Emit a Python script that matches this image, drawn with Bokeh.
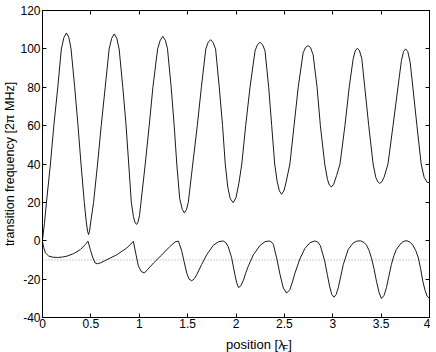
from bokeh.plotting import figure
from bokeh.layouts import column
from bokeh.models import Range1d, LinearAxis, FixedTicker
from bokeh.core.properties import value
from bokeh.embed import file_html
from bokeh.resources import INLINE

# ---- data ----
upper_x = [0.000, 0.020, 0.041, 0.082, 0.117, 0.158, 0.195, 0.222, 0.247, 0.272,
           0.295, 0.333, 0.367, 0.398, 0.432, 0.452, 0.466, 0.476, 0.486, 0.502,
           0.528, 0.569, 0.607, 0.648, 0.689, 0.715, 0.742, 0.768, 0.792, 0.830,
           0.864, 0.891, 0.918, 0.940, 0.958, 0.973, 0.988, 1.002, 1.018, 1.062,
           1.103, 1.141, 1.190, 1.217, 1.244, 1.270, 1.292, 1.330, 1.361, 1.388,
           1.418, 1.445, 1.467, 1.488, 1.507, 1.553, 1.600, 1.642, 1.688, 1.713,
           1.738, 1.763, 1.789, 1.827, 1.861, 1.889, 1.915, 1.940, 1.971, 2.000,
           2.030, 2.060, 2.100, 2.145, 2.197, 2.223, 2.249, 2.275, 2.300, 2.338,
           2.369, 2.400, 2.425, 2.448, 2.471, 2.495, 2.520, 2.557, 2.600, 2.643,
           2.694, 2.720, 2.745, 2.770, 2.797, 2.838, 2.872, 2.917, 2.945, 2.965,
           2.985, 3.010, 3.040, 3.075, 3.126, 3.170, 3.210, 3.232, 3.253, 3.275,
           3.300, 3.331, 3.372, 3.417, 3.445, 3.466, 3.486, 3.507, 3.530, 3.571,
           3.623, 3.674, 3.710, 3.732, 3.753, 3.775, 3.800, 3.828, 3.870, 3.914,
           3.945, 3.975, 4.000]
upper_y = [0.5, 9.0, 20.0, 40.0, 60.0, 80.0, 100.0, 106.0, 108.3, 106.0,
           100.0, 80.0, 60.0, 40.0, 20.0, 10.0, 5.0, 3.2, 5.0, 11.0,
           20.0, 40.0, 60.0, 80.0, 100.0, 105.5, 107.8, 105.5, 100.0, 80.0,
           60.0, 40.0, 20.0, 12.5, 9.3, 8.5, 9.8, 13.0, 20.0, 40.0,
           60.0, 80.0, 100.0, 104.5, 106.5, 104.5, 100.0, 80.0, 60.0, 40.0,
           22.0, 16.3, 14.5, 16.3, 20.0, 40.0, 60.0, 80.0, 100.0, 103.5,
           104.8, 103.3, 100.0, 80.0, 60.0, 40.0, 28.0, 22.0, 19.8, 22.5,
           30.0, 40.0, 60.0, 80.0, 99.0, 102.3, 103.4, 102.2, 99.0, 80.0,
           60.0, 40.0, 31.0, 26.0, 24.2, 26.0, 31.0, 40.0, 60.0, 80.0,
           98.0, 100.8, 101.7, 100.7, 97.0, 80.0, 60.0, 40.0, 32.0, 29.0,
           28.0, 29.5, 34.0, 40.0, 60.0, 80.0, 94.5, 98.9, 100.3, 99.3,
           95.0, 80.0, 60.0, 40.0, 33.0, 30.7, 29.9, 30.7, 33.0, 40.0,
           60.0, 80.0, 94.0, 98.7, 100.0, 98.7, 93.0, 80.0, 60.0, 40.0,
           33.0, 30.5, 30.2]

lower_x = [0.000, 0.012, 0.031, 0.065, 0.110, 0.156, 0.205, 0.254, 0.322, 0.391,
           0.442, 0.470, 0.494, 0.521, 0.545, 0.568, 0.600, 0.665, 0.768, 0.871,
           0.922, 0.939, 0.967, 0.990, 1.020, 1.052, 1.090, 1.148, 1.234, 1.319,
           1.371, 1.405, 1.440, 1.463, 1.491, 1.515, 1.542, 1.570, 1.594, 1.645,
           1.697, 1.765, 1.820, 1.868, 1.895, 1.919, 1.954, 1.988, 2.005, 2.026,
           2.050, 2.077, 2.103, 2.129, 2.180, 2.249, 2.300, 2.345, 2.370, 2.386,
           2.420, 2.455, 2.489, 2.523, 2.557, 2.583, 2.609, 2.660, 2.712, 2.765,
           2.815, 2.845, 2.872, 2.917, 2.945, 2.969, 2.990, 3.013, 3.035, 3.057,
           3.083, 3.109, 3.160, 3.212, 3.250, 3.287, 3.320, 3.349, 3.375, 3.400,
           3.426, 3.452, 3.478, 3.503, 3.530, 3.555, 3.580, 3.606, 3.632, 3.658,
           3.709, 3.738, 3.767, 3.800, 3.828, 3.857, 3.885, 3.908, 3.931, 3.955,
           3.976, 4.000]
lower_y = [-0.5, -3.5, -6.4, -8.0, -8.6, -8.7, -8.5, -8.0, -6.7, -4.6,
           -2.0, -0.2, -4.6, -9.0, -11.6, -12.0, -11.5, -9.9, -7.3, -3.8,
           -1.2, -0.3, -7.3, -13.0, -16.0, -16.8, -14.8, -11.6, -7.3, -2.9,
           -0.6, -0.2, -5.5, -10.8, -16.9, -20.0, -20.9, -19.8, -17.7, -12.4,
           -7.3, -2.4, -0.5, -0.1, -1.0, -3.0, -8.7, -17.4, -21.5, -24.4,
           -23.5, -20.5, -16.5, -13.0, -7.3, -2.4, -0.5, -0.1, -0.8, -1.9,
           -8.9, -17.6, -24.6, -27.3, -25.5, -21.5, -17.0, -9.5, -4.0, -1.0,
           -0.1, -0.7, -2.6, -10.5, -18.0, -24.0, -28.0, -29.4, -28.0, -24.5,
           -18.5, -12.4, -4.5, -1.1, -0.2, 0.0, -0.8, -2.3, -5.0, -8.9,
           -14.5, -21.1, -26.8, -30.1, -28.5, -24.5, -18.5, -12.4, -7.8, -4.5,
           -1.1, -0.2, 0.0, -0.8, -2.3, -5.0, -8.9, -14.5, -21.1, -26.0,
           -29.0, -29.9]

ref_x = [0.0, 4.0]
ref_y = [-10.0, -10.0]

x_ticks = [0, 0.5, 1, 1.5, 2, 2.5, 3, 3.5, 4]
x_tick_labels = ["0", "0.5", "1", "1.5", "2", "2.5", "3", "3.5", "4"]
y_ticks = [-40, -20, 0, 20, 40, 60, 80, 100, 120]
y_tick_labels = ["-40", "-20", "0", "20", "40", "60", "80", "100", "120"]

x_title_parts = ["position [λ", "F", "]"]
y_title = "transition frequency [2π MHz]"

FONT = "Liberation Sans"
PAGE_W, PAGE_H = 430, 352
MAIN_H = 332            # main plot canvas height
XSTRIP_H = PAGE_H - MAIN_H

# ---------------- main plot ----------------
p = figure(width=PAGE_W, height=MAIN_H, x_range=Range1d(0, 4), y_range=Range1d(-40, 120),
           output_backend="svg", toolbar_location=None,
           min_border_left=40, min_border_right=1, min_border_top=10, min_border_bottom=15)
p.xgrid.visible = False
p.ygrid.visible = False
p.outline_line_color = "black"
p.outline_line_width = 1
p.background_fill_color = "white"
p.border_fill_color = "white"


def style_axis(ax, ticks, labels, show_labels=True, standoff=4):
    ax.ticker = FixedTicker(ticks=ticks)
    ax.major_tick_in = 4
    ax.major_tick_out = 0
    ax.minor_tick_line_color = None
    ax.axis_line_color = "black"
    ax.major_tick_line_color = "black"
    if show_labels:
        ax.major_label_overrides = {t: l for t, l in zip(ticks, labels)}
        ax.major_label_text_font = FONT
        ax.major_label_text_font_size = "12px"
        ax.major_label_text_color = "black"
        ax.major_label_standoff = standoff
    else:
        ax.major_label_overrides = {t: "" for t in ticks}
        ax.major_label_text_font_size = "0px"
        ax.major_label_standoff = 0


style_axis(p.xaxis[0], x_ticks, x_tick_labels, standoff=1)
style_axis(p.yaxis[0], y_ticks, y_tick_labels, standoff=2)
p.yaxis[0].axis_label = y_title
p.yaxis[0].axis_label_text_font = FONT
p.yaxis[0].axis_label_text_font_size = "12.5px"
p.yaxis[0].axis_label_text_font_style = "normal"
p.yaxis[0].axis_label_text_color = "black"
p.yaxis[0].axis_label_standoff = 0

ax_top = LinearAxis()
style_axis(ax_top, x_ticks, x_tick_labels, show_labels=False)
p.add_layout(ax_top, "above")
ax_right = LinearAxis()
style_axis(ax_right, y_ticks, y_tick_labels, show_labels=False)
p.add_layout(ax_right, "right")

p.line(ref_x, ref_y, line_color="#999999", line_width=1, line_dash="1 2")
p.line(upper_x, upper_y, line_color="#1a1a1a", line_width=1)
p.line(lower_x, lower_y, line_color="#1a1a1a", line_width=1)

# ---------------- x title strip (below main plot, page coordinates) ----------------
xs = figure(width=PAGE_W, height=XSTRIP_H, x_range=Range1d(0, PAGE_W),
            y_range=Range1d(0, XSTRIP_H), output_backend="svg", toolbar_location=None,
            x_axis_location=None, y_axis_location=None,
            min_border_left=0, min_border_right=0, min_border_top=0, min_border_bottom=0)
xs.grid.visible = False
xs.outline_line_color = None
xs.background_fill_color = "white"
xs.border_fill_color = "white"

x0 = 204
xs.text(x=[x0], y=[PAGE_H - 344], text=[x_title_parts[0]], text_font=value(FONT),
        text_font_size=value("13px"), text_color="black", text_align="left",
        text_baseline="alphabetic")
xs.text(x=[x0 + 63], y=[PAGE_H - 347], text=[x_title_parts[1]], text_font=value(FONT),
        text_font_size=value("9px"), text_color="black", text_align="left",
        text_baseline="alphabetic")
xs.text(x=[x0 + 69], y=[PAGE_H - 344], text=[x_title_parts[2]], text_font=value(FONT),
        text_font_size=value("13px"), text_color="black", text_align="left",
        text_baseline="alphabetic")

layout = column(p, xs, spacing=0)
open("out.html", "w").write(file_html(layout, INLINE))
